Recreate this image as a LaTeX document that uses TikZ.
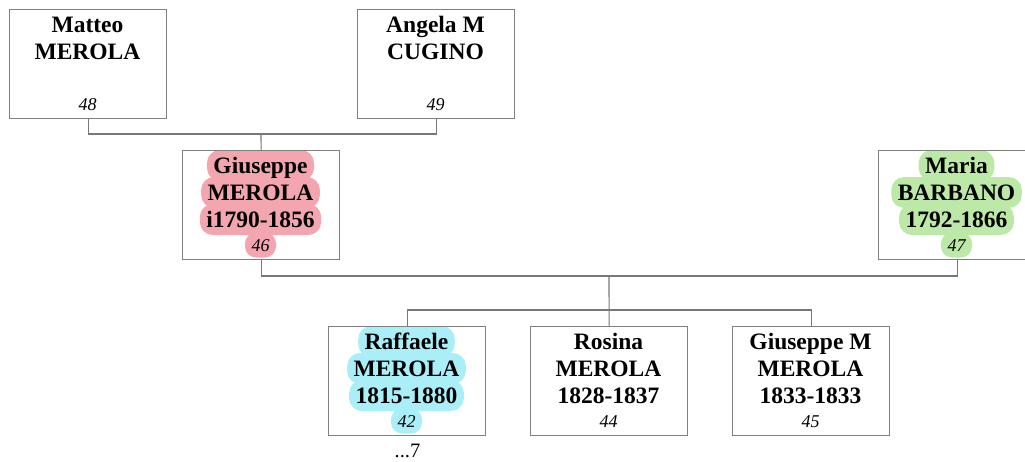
\documentclass[tikz,border=0pt]{standalone}
\usepackage{fontspec}
\setmainfont{Liberation Serif}
\definecolor{boxgray}{RGB}{128,128,128}
\definecolor{linegray}{RGB}{120,120,120}
\definecolor{hlpink}{RGB}{243,166,175}
\definecolor{hlgreen}{RGB}{188,233,168}
\definecolor{hlcyan}{RGB}{170,238,248}
\tikzset{
  box/.style={draw=boxgray, line width=1.2pt, minimum width=157pt, minimum height=109pt, inner sep=0pt, anchor=north west},
  nm/.style={font=\bfseries\fontsize{23.5}{27}\selectfont, text height=23pt, text depth=8pt, inner xsep=6.5pt, inner ysep=0pt, rounded corners=13pt, anchor=base},
  num/.style={font=\itshape\fontsize{18}{20}\selectfont, text height=19pt, text depth=6pt, inner xsep=6.5pt, inner ysep=0pt, rounded corners=11pt, anchor=base},
  conn/.style={draw=linegray, line width=1.1pt},
}
\newcommand\personbox[8]{%
  \node[nm, fill=#8] (#1ha) at ({#2+78.5},{#3+23}) {\phantom{#4}};
  \node[nm, fill=#8] (#1hb) at ({#2+78.5},{#3+50}) {\phantom{#5}};
  \node[nm, fill=#8] (#1hc) at ({#2+78.5},{#3+77}) {\phantom{#6}};
  \node[num, fill=#8] (#1hn) at ({#2+78.5},{#3+101.5}) {\phantom{#7}};
  \node[nm] (#1a) at ({#2+78.5},{#3+23}) {#4};
  \node[nm] (#1b) at ({#2+78.5},{#3+50}) {#5};
  \node[nm] (#1c) at ({#2+78.5},{#3+77}) {#6};
  \node[num] (#1n) at ({#2+78.5},{#3+101.5}) {#7};
  \node[box] (#1) at (#2,#3) {};
}
\newcommand\plainbox[6]{%
  \node[nm] (#1a) at ({#2+78.5},{#3+23}) {#4};
  \node[nm] (#1b) at ({#2+78.5},{#3+50}) {#5};
  \node[num] (#1n) at ({#2+78.5},{#3+101.5}) {#6};
  \node[box] (#1) at (#2,#3) {};
}
\begin{document}
\begin{tikzpicture}[x=1pt,y=-1pt]
\useasboundingbox (0,0) rectangle (1025,461);
\clip (0,0) rectangle (1025,461);
% top generation
\plainbox{mat}{9}{9}{Matteo}{MEROLA}{48}
\plainbox{ang}{357}{9}{Angela M}{CUGINO}{49}
% parents
\personbox{gius}{182}{150}{Giuseppe}{MEROLA}{i1790-1856}{46}{hlpink}
\personbox{mar}{878}{150}{Maria}{BARBANO}{1792-1866}{47}{hlgreen}
% children
\personbox{raf}{328}{326}{Raffaele}{MEROLA}{1815-1880}{42}{hlcyan}
\personbox{ros}{530}{326}{Rosina}{MEROLA}{1828-1837}{44}{none}
\personbox{gm}{732}{326}{Giuseppe M}{MEROLA}{1833-1833}{45}{none}
\node[font=\fontsize{20.5}{22}\selectfont, anchor=base] (more) at (407.5,457) {...7};
% connectors
\coordinate (j1) at (261,134);
\coordinate (j2) at (609,276);
\coordinate (j3) at (609,310);
\draw[conn] (mat.south) |- (j1) -| (ang.south);
\draw[conn] (j1) -- (gius.north);
\draw[conn] (gius.south) |- (j2) -| (mar.south);
\draw[conn] (j2) -- (ros.north);
\draw[conn] (raf.north) |- (j3) -| (gm.north);
\end{tikzpicture}
\end{document}
